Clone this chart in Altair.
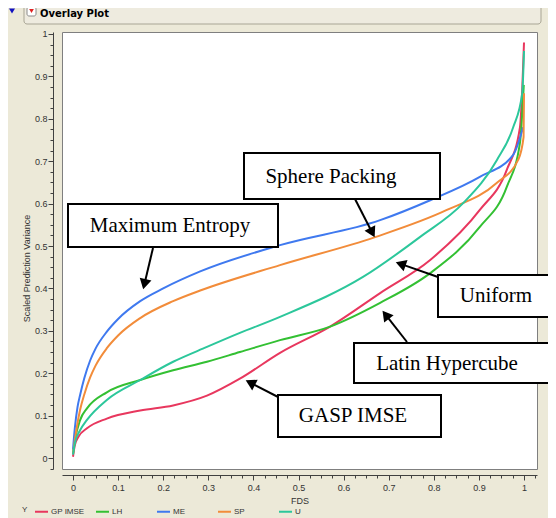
import math
import altair as alt
import pandas as pd

# ---------------- data ----------------
series_names = ["GP IMSE", "LH", "ME", "SP", "U"]
series_colors = ["#E8375E", "#33C033", "#3F79EF", "#F28C3A", "#2CC79B"]

gp_x = [0.0, 0.004, 0.012, 0.031, 0.075, 0.149, 0.222, 0.297, 0.37, 0.459, 0.57, 0.681, 0.792, 0.902, 0.962, 0.991, 1.0]
gp_y = [0.003, 0.03, 0.05, 0.07, 0.093, 0.112, 0.124, 0.147, 0.187, 0.248, 0.31, 0.389, 0.467, 0.585, 0.68, 0.78, 0.98]

lh_x = [0.0, 0.004, 0.016, 0.031, 0.075, 0.149, 0.222, 0.297, 0.37, 0.459, 0.57, 0.681, 0.792, 0.902, 0.962, 0.991, 0.9995]
lh_y = [0.01, 0.04, 0.09, 0.117, 0.155, 0.184, 0.207, 0.227, 0.25, 0.278, 0.31, 0.366, 0.436, 0.545, 0.64, 0.743, 0.88]

me_x = [0.0, 0.004, 0.01, 0.016, 0.025, 0.038, 0.05, 0.075, 0.1, 0.149, 0.2, 0.282, 0.459, 0.681, 0.792, 0.902, 0.976, 0.998]
me_y = [0.02, 0.07, 0.12, 0.15, 0.188, 0.23, 0.258, 0.298, 0.328, 0.37, 0.40, 0.44, 0.502, 0.561, 0.608, 0.663, 0.715, 0.78]

sp_x = [0.0, 0.004, 0.016, 0.025, 0.038, 0.05, 0.075, 0.1, 0.149, 0.222, 0.282, 0.459, 0.67, 0.829, 0.94, 0.987, 0.999, 1.0]
sp_y = [0.01, 0.042, 0.115, 0.15, 0.19, 0.218, 0.259, 0.289, 0.33, 0.37, 0.395, 0.455, 0.521, 0.585, 0.649, 0.703, 0.757, 0.86]

u_x = [0.0, 0.004, 0.016, 0.031, 0.075, 0.149, 0.222, 0.297, 0.37, 0.459, 0.643, 0.769, 0.865, 0.94, 0.976, 0.996, 1.0]
u_y = [0.008, 0.035, 0.066, 0.09, 0.137, 0.184, 0.227, 0.262, 0.295, 0.333, 0.427, 0.521, 0.601, 0.703, 0.78, 0.86, 0.96]

annotation_labels = ["Maximum Entropy", "Sphere Packing", "Uniform", "Latin Hypercube", "GASP IMSE"]
legend_title = "Y"
x_title = "FDS"
y_title = "Scaled Prediction Variance"
header_title = "Overlay Plot"

# ---------------- build table ----------------
rows = []
for name, xs, ys in zip(series_names, [gp_x, lh_x, me_x, sp_x, u_x], [gp_y, lh_y, me_y, sp_y, u_y]):
    for i, (xv, yv) in enumerate(zip(xs, ys)):
        rows.append({"series": name, "FDS": xv, "SPV": yv, "i": i})
df = pd.DataFrame(rows)

# ---------------- layout ----------------
W, H = 475, 437
PX0, PY0 = 62, 32  # page position of plot area
XDOM = [-0.0244, 1.0288]
YDOM = [-0.0259, 1.0047]

x_ticks = [round(-0.025 + 0.025 * k, 3) for k in range(43)]
y_ticks = [round(-0.025 + 0.025 * k, 3) for k in range(42)]
major_test = "abs(datum.value*10 - round(datum.value*10)) < 0.001"
label_expr = f"({major_test}) ? format(datum.value, '.1~f') : ''"

AX_COL = "#404040"
TXT_COL = "#333333"

x_axis = alt.Axis(
    values=x_ticks, labelExpr=label_expr, grid=False, offset=6,
    tickSize={"condition": {"test": major_test, "value": 5}, "value": 3},
    domainColor=AX_COL, tickColor=AX_COL, labelColor=TXT_COL,
    labelFont="Liberation Sans", labelFontSize=9, labelPadding=3, labelFlush=False,
    title=x_title, titleFont="Liberation Sans", titleFontSize=9, titleFontWeight="normal",
    titleColor=TXT_COL, titlePadding=4,
)
y_axis = alt.Axis(
    values=y_ticks, labelExpr=label_expr, grid=False, offset=9,
    tickSize={"condition": {"test": major_test, "value": 5}, "value": 3},
    domainColor=AX_COL, tickColor=AX_COL, labelColor=TXT_COL,
    labelFont="Liberation Sans", labelFontSize=9, labelPadding=1, labelFlush=False,
    title=y_title, titleFont="Liberation Sans", titleFontSize=9, titleFontWeight="normal",
    titleColor=TXT_COL, titlePadding=3, titleY=236,
)

lines = alt.Chart(df).mark_line(strokeWidth=2, interpolate="monotone").encode(
    x=alt.X("FDS:Q", scale=alt.Scale(domain=XDOM, nice=False, zero=False), axis=x_axis),
    y=alt.Y("SPV:Q", scale=alt.Scale(domain=YDOM, nice=False, zero=False), axis=y_axis),
    color=alt.Color(
        "series:N",
        scale=alt.Scale(domain=series_names, range=series_colors),
        legend=alt.Legend(
            title=legend_title, orient="none", legendX=22 - PX0, legendY=504 - PY0,
            direction="horizontal", columns=5, gridAlign="all", columnPadding=7,
            symbolType="stroke", symbolSize=169, symbolStrokeWidth=2, symbolOffset=0,
            labelFont="Liberation Sans", labelFontSize=8, labelColor=TXT_COL, labelOffset=2,
            titleOrient="left", titleFont="Liberation Sans", titleFontSize=8,
            titleFontWeight="normal", titleColor=TXT_COL, titlePadding=6,
        ),
    ),
    order="i:Q",
)

one = pd.DataFrame({"k": [0]})
layers = [lines]

# annotation boxes (page pixel coords): x0, x1, y0, y1, text center x, y
boxes = [
    (68, 278, 204, 247, 170, 226),
    (244, 440, 153, 199, 331, 177),
    (438, 556, 275, 317, 496, 296),
    (354, 555, 343, 383, 447, 364),
    (278, 441, 395, 437, 353, 416),
]
arrows = [
    ((153, 248), (143, 290)),
    ((355, 199), (375, 238)),
    ((438, 277), (395, 262)),
    ((407, 342), (382, 310)),
    ((280, 398), (245, 380)),
]

for (s, t) in arrows:
    sx, sy = s[0] - PX0, s[1] - PY0
    tx, ty = t[0] - PX0, t[1] - PY0
    dx, dy = tx - sx, ty - sy
    L = math.hypot(dx, dy)
    ux, uy = dx / L, dy / L
    hl = 12
    layers.append(alt.Chart(one).mark_rule(color="black", strokeWidth=2).encode(
        x=alt.value(sx), y=alt.value(sy), x2=alt.value(tx - ux * hl * 0.8), y2=alt.value(ty - uy * hl * 0.8)))
    ang = math.degrees(math.atan2(ux, -uy)) % 360
    layers.append(alt.Chart(one).mark_point(shape="triangle-up", filled=True, color="black", opacity=1,
                                             size=hl * hl, angle=ang).encode(
        x=alt.value(tx - ux * hl / 2), y=alt.value(ty - uy * hl / 2)))

for (x0, x1, y0, y1, cx, cy), lab in zip(boxes, annotation_labels):
    layers.append(alt.Chart(one).mark_rect(fill="white", stroke="black", strokeWidth=2).encode(
        x=alt.value(x0 - PX0), x2=alt.value(x1 - PX0), y=alt.value(y0 - PY0), y2=alt.value(y1 - PY0)))
    layers.append(alt.Chart(one).mark_text(font="Liberation Serif", fontSize=21, color="black",
                                            align="center", baseline="middle").encode(
        x=alt.value(cx - PX0), y=alt.value(cy - PY0), text=alt.value(lab)))

# header strip
layers.append(alt.Chart(one).mark_rect(fill="#EEEBDF", stroke="#A8A594", strokeWidth=1, cornerRadius=3).encode(
    x=alt.value(24 - PX0), x2=alt.value(541 - PX0), y=alt.value(2 - PY0), y2=alt.value(24 - PY0)))
layers.append(alt.Chart(one).mark_point(shape="triangle-down", filled=True, color="#1010C0", opacity=1, size=36).encode(
    x=alt.value(12 - PX0), y=alt.value(11 - PY0)))
layers.append(alt.Chart(one).mark_rect(fill="white", stroke="#8A8A8A", strokeWidth=1, cornerRadius=2).encode(
    x=alt.value(27 - PX0), x2=alt.value(36 - PX0), y=alt.value(7 - PY0), y2=alt.value(16 - PY0)))
layers.append(alt.Chart(one).mark_point(shape="triangle-down", filled=True, color="#E02020", opacity=1, size=22).encode(
    x=alt.value(31.5 - PX0), y=alt.value(11 - PY0)))
layers.append(alt.Chart(one).mark_text(font="DejaVu Sans", fontSize=10, fontWeight="bold", color="black",
                                        align="left", baseline="middle").encode(
    x=alt.value(40 - PX0), y=alt.value(14 - PY0), text=alt.value(header_title)))

chart = alt.layer(*layers).properties(
    width=W, height=H,
    padding={"left": PX0 - 8, "top": PY0 - 8, "right": 540 - (PX0 - 8) - W, "bottom": 510 - (PY0 - 8) - H},
    autosize=alt.AutoSizeParams(type="none"),
    background="#ECE9D8",
).configure_view(stroke="#7F7F7F", strokeWidth=1, fill="white")

chart.save("out.html", embed_options={"renderer": "svg", "actions": False})
